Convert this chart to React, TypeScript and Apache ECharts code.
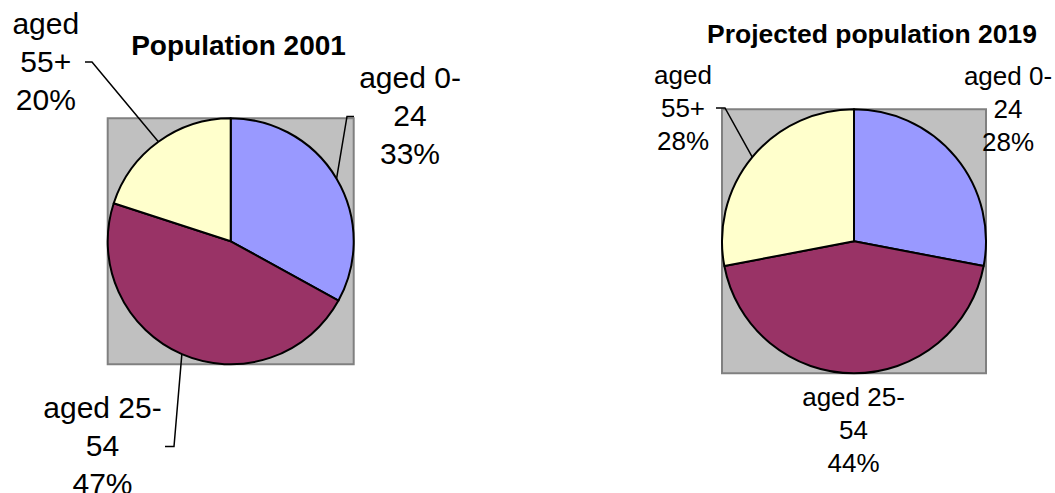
import React, { useEffect, useRef } from 'react';
import * as echarts from 'echarts';

const categories = ['aged 0-24', 'aged 25-54', 'aged 55+'];
const values2001 = [33, 47, 20];
const values2019 = [28, 44, 28];
const titles = ['Population 2001', 'Projected population 2019'];
const sliceColors = ['#9999FF', '#993366', '#FFFFCC'];

const FONT = "'Liberation Sans', Arial, sans-serif";

function wrapName(name: string): string {
  const i = name.indexOf('-');
  if (i >= 0) return name.slice(0, i + 1) + '\n' + name.slice(i + 1);
  return name.replace(' ', '\n');
}

type LabelCfg = { x: number; y: number; leader: number[][] | null };
type ChartCfg = {
  center: [number, number];
  radius: number;
  titleX: number;
  titleTop: number;
  titleSize: number;
  fontSize: number;
  lineHeight: number;
  labels: LabelCfg[];
};

const layouts: ChartCfg[] = [
  {
    center: [230.7, 241.3],
    radius: 123,
    titleX: 238.5,
    titleTop: 31,
    titleSize: 28,
    fontSize: 30,
    lineHeight: 38,
    labels: [
      { x: 410, y: 115, leader: [[347, 116.5], [354, 116.5]] },
      { x: 102.5, y: 445, leader: [[174, 446.5], [165, 446.5]] },
      { x: 45.8, y: 61.3, leader: [[92, 62], [85, 62]] },
    ],
  },
  {
    center: [854, 241.3],
    radius: 132,
    titleX: 872,
    titleTop: 20,
    titleSize: 26.5,
    fontSize: 26,
    lineHeight: 33,
    labels: [
      { x: 1008, y: 109, leader: null },
      { x: 853.5, y: 430, leader: null },
      { x: 683, y: 107.7, leader: [[725, 108], [716, 108]] },
    ],
  },
];

const seriesValues = [values2001, values2019];

export default function App() {
  const ref = useRef<HTMLDivElement>(null);
  useEffect(() => {
    document.body.style.margin = '0';
    if (!ref.current) return;
    const chart = echarts.init(ref.current, undefined, { renderer: 'svg' });
    const option: any = {
      animation: false,
      backgroundColor: '#FFFFFF',
      title: layouts.map((L, si) => ({
        text: titles[si],
        left: L.titleX,
        top: L.titleTop,
        textAlign: 'center',
        padding: 0,
        textStyle: {
          fontFamily: FONT,
          fontWeight: 'bold',
          fontSize: L.titleSize,
          color: '#000000',
        },
      })),
      graphic: layouts.map((L) => ({
        type: 'rect',
        z: 0,
        silent: true,
        shape: {
          x: L.center[0] - L.radius,
          y: L.center[1] - L.radius,
          width: L.radius * 2,
          height: L.radius * 2,
        },
        style: { fill: '#C0C0C0', stroke: '#808080', lineWidth: 2 },
      })),
      series: layouts.map((L, si) => ({
        type: 'pie',
        z: 5,
        center: L.center,
        radius: L.radius,
        startAngle: 90,
        clockwise: true,
        silent: true,
        avoidLabelOverlap: false,
        emphasis: { disabled: true },
        itemStyle: { borderColor: '#000000', borderWidth: 2 },
        data: categories.map((c, i) => ({
          name: c,
          value: seriesValues[si][i],
          itemStyle: { color: sliceColors[i] },
          labelLine: { show: !!L.labels[i].leader },
        })),
        label: {
          show: true,
          position: 'outside',
          formatter: (p: any) => wrapName(p.name) + '\n' + p.value + '%',
          fontFamily: FONT,
          fontSize: L.fontSize,
          lineHeight: L.lineHeight,
          color: '#000000',
          align: 'center',
        },
        labelLine: {
          show: true,
          length: 5,
          length2: 5,
          lineStyle: { color: '#000000', width: 1.5 },
        },
        labelLayout: (p: any) => {
          const cfg = L.labels[p.dataIndex];
          const out: any = { x: cfg.x, y: cfg.y, align: 'center', verticalAlign: 'middle' };
          if (cfg.leader && p.labelLinePoints) {
            out.labelLinePoints = [p.labelLinePoints[0], ...cfg.leader];
          }
          return out;
        },
      })),
    };
    chart.setOption(option);
    return () => chart.dispose();
  }, []);
  return <div ref={ref} style={{ width: 1055, height: 493 }} />;
}
